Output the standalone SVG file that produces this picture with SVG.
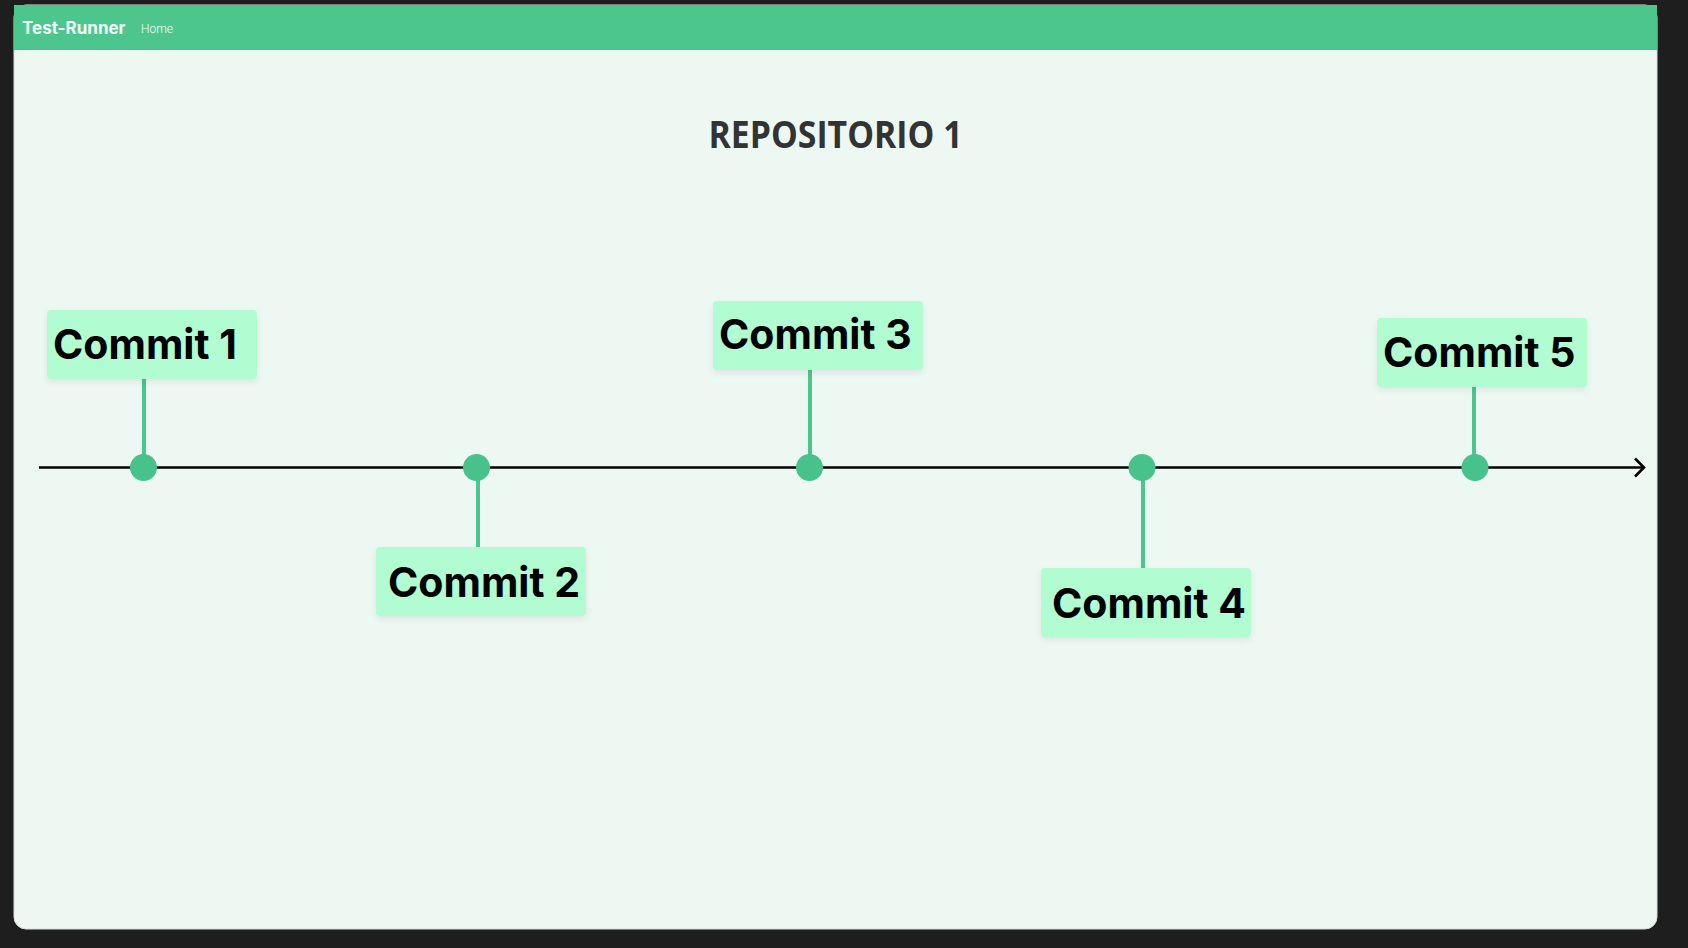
<svg xmlns="http://www.w3.org/2000/svg" width="1688" height="948" viewBox="0 0 1688 948">
  <defs>
    <style>
      .box{fill:#b1fcd1;}
      .lbl{font-family:Inter,"Liberation Sans",sans-serif;font-weight:700;font-size:41px;fill:#000;}
      .stem{stroke:#4cc68f;stroke-width:4;}
      .dot{fill:#48c28b;}
    </style>
    <filter id="sh" x="-10%" y="-20%" width="120%" height="150%">
      <feDropShadow dx="0" dy="3" stdDeviation="3" flood-color="#000" flood-opacity="0.08"/>
    </filter>
  </defs>
  <rect x="0" y="0" width="1688" height="948" fill="#1e1e1e"/>
  <rect x="14" y="5" width="1643" height="924" rx="12" fill="#eef8f3" stroke="#d8dcda" stroke-width="1"/>
  <g id="header">
    <path d="M14 5 H1657 V50 H14 Z" fill="#4dc68e"/>
    <text x="22" y="34" font-family="Inter,'Liberation Sans',sans-serif" font-weight="700" font-size="17" fill="#f4fff9">Test-Runner</text>
    <text x="141" y="33" font-family="Roboto,'Liberation Sans',sans-serif" font-weight="300" font-size="12" fill="#f4fff9">Home</text>
  </g>
  <text id="title" x="835.5" y="148" text-anchor="middle" font-family="'Open Sans','Liberation Sans',sans-serif" font-weight="700" font-size="38" fill="#333" textLength="254" lengthAdjust="spacingAndGlyphs">REPOSITORIO 1</text>
  <g id="connectors">
    <line x1="39" y1="467.5" x2="1644" y2="467.5" stroke="#000" stroke-width="2.6"/>
    <polyline points="1635,458.5 1644,467.5 1635,476.5" fill="none" stroke="#000" stroke-width="2.6"/>
    <line class="stem" x1="144" y1="379" x2="144" y2="467"/>
    <line class="stem" x1="478" y1="467" x2="478" y2="547"/>
    <line class="stem" x1="810" y1="370" x2="810" y2="467"/>
    <line class="stem" x1="1143" y1="467" x2="1143" y2="569"/>
    <line class="stem" x1="1474" y1="387" x2="1474" y2="467"/>
  </g>
  <g id="commit1">
    <rect class="box" x="47" y="310" width="210" height="69" rx="4" filter="url(#sh)"/>
    <text class="lbl" x="53" y="359">Commit 1</text>
    <circle class="dot" cx="143.5" cy="467.5" r="13.5"/>
  </g>
  <g id="commit2">
    <rect class="box" x="376" y="547" width="210" height="69" rx="4" filter="url(#sh)"/>
    <text class="lbl" x="388" y="597">Commit 2</text>
    <circle class="dot" cx="476.5" cy="467.5" r="13.5"/>
  </g>
  <g id="commit3">
    <rect class="box" x="713" y="301" width="210" height="69" rx="4" filter="url(#sh)"/>
    <text class="lbl" x="719" y="349">Commit 3</text>
    <circle class="dot" cx="809.5" cy="467.5" r="13.5"/>
  </g>
  <g id="commit4">
    <rect class="box" x="1041" y="568" width="210" height="69" rx="4" filter="url(#sh)"/>
    <text class="lbl" x="1052" y="618">Commit 4</text>
    <circle class="dot" cx="1142" cy="467.5" r="13.5"/>
  </g>
  <g id="commit5">
    <rect class="box" x="1377" y="318" width="210" height="69" rx="4" filter="url(#sh)"/>
    <text class="lbl" x="1383" y="367">Commit 5</text>
    <circle class="dot" cx="1475" cy="467.5" r="13.5"/>
  </g>
</svg>
